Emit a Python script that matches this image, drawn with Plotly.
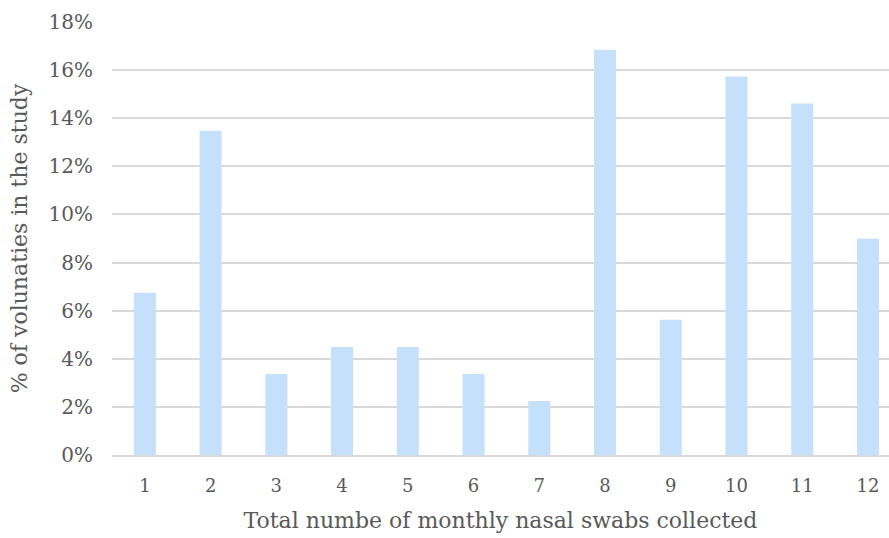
import plotly.graph_objects as go

# Share of volunteers by total number of monthly nasal swabs collected
swab_counts = ["1", "2", "3", "4", "5", "6", "7", "8", "9", "10", "11", "12"]
pct_volunteers = [0.0674, 0.1348, 0.0337, 0.0449, 0.0449, 0.0337,
                  0.0225, 0.1685, 0.0562, 0.1573, 0.1461, 0.0899]
y_ticks = [0, 0.02, 0.04, 0.06, 0.08, 0.10, 0.12, 0.14, 0.16, 0.18]

font_family = "DejaVu Serif"
text_color = "#595959"

fig = go.Figure(
    go.Bar(
        x=list(range(len(swab_counts))),
        y=pct_volunteers,
        marker=dict(color="#c5e0fb", line=dict(width=0)),
        hoverinfo="skip",
    )
)

fig.update_layout(
    width=889,
    height=538,
    margin=dict(l=112, r=0, t=22, b=83),
    paper_bgcolor="white",
    plot_bgcolor="white",
    bargap=0.665,
    showlegend=False,
    font=dict(family=font_family, color=text_color, size=19),
)

fig.update_xaxes(
    tickmode="array",
    tickvals=list(range(len(swab_counts))),
    ticktext=swab_counts,
    range=[-0.5, 11.32],
    showgrid=False,
    showline=True,
    linecolor="#d9d9d9",
    linewidth=1.5,
    ticks="",
    ticklabelstandoff=14,
    tickfont=dict(size=18),
    title=dict(text="Total numbe of monthly nasal swabs collected",
               font=dict(size=22), standoff=17),
    zeroline=False,
)

fig.update_yaxes(
    range=[0, 0.18],
    tickmode="array",
    tickvals=y_ticks,
    tickformat=".0%",
    showgrid=True,
    gridcolor="#d9d9d9",
    gridwidth=1.5,
    zeroline=False,
    ticks="",
    ticklabelstandoff=18,
    tickfont=dict(size=20),
    title=dict(text="% of volunaties in the study",
               font=dict(size=22), standoff=14),
)

fig.write_html("out.html")
